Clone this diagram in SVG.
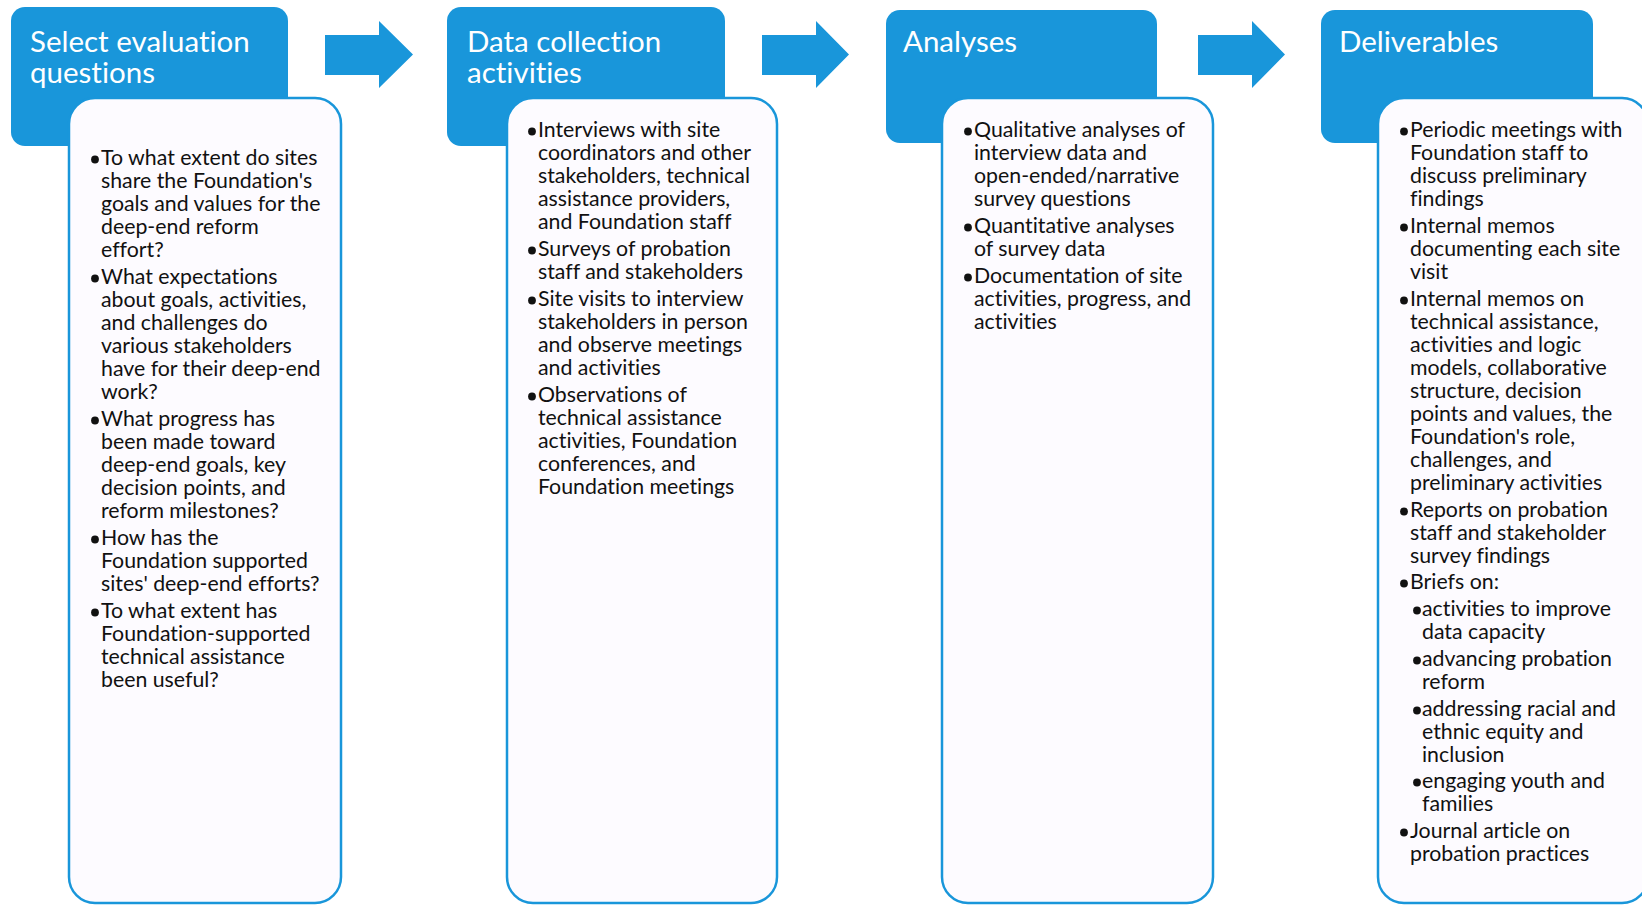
<svg xmlns="http://www.w3.org/2000/svg" width="1642" height="905" viewBox="0 0 1642 905">
<defs>
<style>
.hdr{fill:#1996DA;}
.card{fill:#FDFBFF;stroke:#1996DA;stroke-width:2.5;}
.arrow{fill:#1996DA;}
.title{font-family:Lato,"Liberation Sans",sans-serif;font-size:29.5px;fill:#FFFFFF;font-variant-ligatures:none;}
.body{font-family:Lato,"Liberation Sans",sans-serif;font-size:21.3px;fill:#111111;font-variant-ligatures:none;}
.dot{fill:#111111;}
</style>
</defs>
<rect width="1642" height="905" fill="#FFFFFF"/>
<g id="connectors">
<polygon class="arrow" points="325,35 379,35 379,21 413,54.5 379,88 379,75 325,75"/>
<polygon class="arrow" points="762,35 816,35 816,21 849,54.5 816,88 816,75 762,75"/>
<polygon class="arrow" points="1198,35 1252,35 1252,21 1285,54.5 1252,88 1252,75 1198,75"/>
</g>
<g id="node-select">
<rect class="hdr" x="11" y="7" width="277" height="139" rx="14"/>
<text class="title" x="30" y="52">Select evaluation</text>
<text class="title" x="30" y="83">questions</text>
<rect class="card" x="69" y="98" width="272" height="805" rx="26"/>
<circle class="dot" cx="95" cy="159.5" r="3.9"/><circle class="dot" cx="95" cy="278.5" r="3.9"/><circle class="dot" cx="95" cy="420.5" r="3.9"/><circle class="dot" cx="95" cy="539.5" r="3.9"/><circle class="dot" cx="95" cy="612.5" r="3.9"/>
<text class="body" x="101" y="165">To what extent do sites</text>
<text class="body" x="101" y="188">share the Foundation's</text>
<text class="body" x="101" y="211">goals and values for the</text>
<text class="body" x="101" y="234">deep-end reform</text>
<text class="body" x="101" y="257">effort?</text>
<text class="body" x="101" y="284">What expectations</text>
<text class="body" x="101" y="307">about goals, activities,</text>
<text class="body" x="101" y="330">and challenges do</text>
<text class="body" x="101" y="353">various stakeholders</text>
<text class="body" x="101" y="376">have for their deep-end</text>
<text class="body" x="101" y="399">work?</text>
<text class="body" x="101" y="426">What progress has</text>
<text class="body" x="101" y="449">been made toward</text>
<text class="body" x="101" y="472">deep-end goals, key</text>
<text class="body" x="101" y="495">decision points, and</text>
<text class="body" x="101" y="518">reform milestones?</text>
<text class="body" x="101" y="545">How has the</text>
<text class="body" x="101" y="568">Foundation supported</text>
<text class="body" x="101" y="591">sites' deep-end efforts?</text>
<text class="body" x="101" y="618">To what extent has</text>
<text class="body" x="101" y="641">Foundation-supported</text>
<text class="body" x="101" y="664">technical assistance</text>
<text class="body" x="101" y="687">been useful?</text>
</g>
<g id="node-data">
<rect class="hdr" x="447" y="7" width="278" height="139" rx="14"/>
<text class="title" x="467" y="52">Data collection</text>
<text class="title" x="467" y="83">activities</text>
<rect class="card" x="507" y="98" width="270" height="805" rx="26"/>
<circle class="dot" cx="532" cy="131.5" r="3.9"/><circle class="dot" cx="532" cy="250.5" r="3.9"/><circle class="dot" cx="532" cy="300.5" r="3.9"/><circle class="dot" cx="532" cy="396.5" r="3.9"/>
<text class="body" x="538" y="137">Interviews with site</text>
<text class="body" x="538" y="160">coordinators and other</text>
<text class="body" x="538" y="183">stakeholders, technical</text>
<text class="body" x="538" y="206">assistance providers,</text>
<text class="body" x="538" y="229">and Foundation staff</text>
<text class="body" x="538" y="256">Surveys of probation</text>
<text class="body" x="538" y="279">staff and stakeholders</text>
<text class="body" x="538" y="306">Site visits to interview</text>
<text class="body" x="538" y="329">stakeholders in person</text>
<text class="body" x="538" y="352">and observe meetings</text>
<text class="body" x="538" y="375">and activities</text>
<text class="body" x="538" y="402">Observations of</text>
<text class="body" x="538" y="425">technical assistance</text>
<text class="body" x="538" y="448">activities, Foundation</text>
<text class="body" x="538" y="471">conferences, and</text>
<text class="body" x="538" y="494">Foundation meetings</text>
</g>
<g id="node-analyses">
<rect class="hdr" x="886" y="10" width="271" height="133" rx="14"/>
<text class="title" x="903" y="52">Analyses</text>
<rect class="card" x="942" y="98" width="271" height="805" rx="26"/>
<circle class="dot" cx="968" cy="131.5" r="3.9"/><circle class="dot" cx="968" cy="227.5" r="3.9"/><circle class="dot" cx="968" cy="277.5" r="3.9"/>
<text class="body" x="974" y="137">Qualitative analyses of</text>
<text class="body" x="974" y="160">interview data and</text>
<text class="body" x="974" y="183">open-ended/narrative</text>
<text class="body" x="974" y="206">survey questions</text>
<text class="body" x="974" y="233">Quantitative analyses</text>
<text class="body" x="974" y="256">of survey data</text>
<text class="body" x="974" y="283">Documentation of site</text>
<text class="body" x="974" y="306">activities, progress, and</text>
<text class="body" x="974" y="329">activities</text>
</g>
<g id="node-deliverables">
<rect class="hdr" x="1321" y="10" width="272" height="133" rx="14"/>
<text class="title" x="1339" y="52">Deliverables</text>
<rect class="card" x="1378" y="98" width="270" height="805" rx="26"/>
<circle class="dot" cx="1404" cy="131.5" r="3.9"/><circle class="dot" cx="1404" cy="227.5" r="3.9"/><circle class="dot" cx="1404" cy="300.5" r="3.9"/><circle class="dot" cx="1404" cy="511.5" r="3.9"/><circle class="dot" cx="1404" cy="583.5" r="3.9"/><circle class="dot" cx="1404" cy="832.5" r="3.9"/>
<circle class="dot" cx="1417" cy="610.5" r="3.9"/><circle class="dot" cx="1417" cy="660.5" r="3.9"/><circle class="dot" cx="1417" cy="710.5" r="3.9"/><circle class="dot" cx="1417" cy="782.5" r="3.9"/>
<text class="body" x="1410" y="137">Periodic meetings with</text>
<text class="body" x="1410" y="160">Foundation staff to</text>
<text class="body" x="1410" y="183">discuss preliminary</text>
<text class="body" x="1410" y="206">findings</text>
<text class="body" x="1410" y="233">Internal memos</text>
<text class="body" x="1410" y="256">documenting each site</text>
<text class="body" x="1410" y="279">visit</text>
<text class="body" x="1410" y="306">Internal memos on</text>
<text class="body" x="1410" y="329">technical assistance,</text>
<text class="body" x="1410" y="352">activities and logic</text>
<text class="body" x="1410" y="375">models, collaborative</text>
<text class="body" x="1410" y="398">structure, decision</text>
<text class="body" x="1410" y="421">points and values, the</text>
<text class="body" x="1410" y="444">Foundation's role,</text>
<text class="body" x="1410" y="467">challenges, and</text>
<text class="body" x="1410" y="490">preliminary activities</text>
<text class="body" x="1410" y="517">Reports on probation</text>
<text class="body" x="1410" y="540">staff and stakeholder</text>
<text class="body" x="1410" y="563">survey findings</text>
<text class="body" x="1410" y="589">Briefs on:</text>
<text class="body" x="1422" y="616">activities to improve</text>
<text class="body" x="1422" y="639">data capacity</text>
<text class="body" x="1422" y="666">advancing probation</text>
<text class="body" x="1422" y="689">reform</text>
<text class="body" x="1422" y="716">addressing racial and</text>
<text class="body" x="1422" y="739">ethnic equity and</text>
<text class="body" x="1422" y="762">inclusion</text>
<text class="body" x="1422" y="788">engaging youth and</text>
<text class="body" x="1422" y="811">families</text>
<text class="body" x="1410" y="838">Journal article on</text>
<text class="body" x="1410" y="861">probation practices</text>
</g>
</svg>
